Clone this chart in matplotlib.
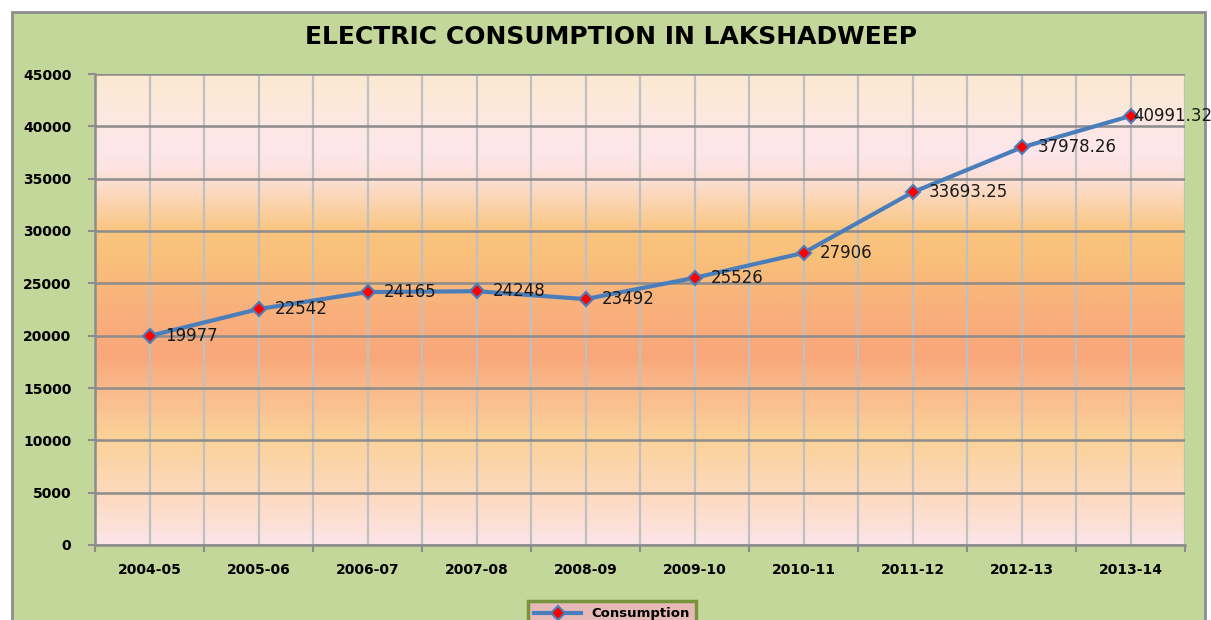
import numpy as np
import matplotlib
matplotlib.use("Agg")
import matplotlib.pyplot as plt
from matplotlib.colors import LinearSegmentedColormap
from matplotlib.patches import Rectangle

years = ["2004-05", "2005-06", "2006-07", "2007-08", "2008-09",
         "2009-10", "2010-11", "2011-12", "2012-13", "2013-14"]
consumption = [19977, 22542, 24165, 24248, 23492, 25526, 27906, 33693.25, 37978.26, 40991.32]
labels = ["19977", "22542", "24165", "24248", "23492", "25526", "27906",
          "33693.25", "37978.26", "40991.32"]
y_ticks = [0, 5000, 10000, 15000, 20000, 25000, 30000, 35000, 40000, 45000]

W, H = 1211, 620
fig = plt.figure(figsize=(W / 100, H / 100), dpi=100)
fig.patch.set_facecolor("white")

# green chart area with grey border
fig.patches.append(Rectangle((12 / W, -0.05), (1205 - 12) / W, (H - 12) / H + 0.05,
                             transform=fig.transFigure, facecolor="#C4D79B",
                             edgecolor="#8C8C8C", linewidth=2, zorder=-10))

ax = fig.add_axes([95 / W, (H - 545) / H, (1185 - 95) / W, (545 - 74) / H])
ax.set_zorder(1)

# vertical gradient background
stops = [(0.0, "#FDE5E8"), (5000 / 45000, "#FCD9BC"), (10000 / 45000, "#FBD29A"),
         (15000 / 45000, "#FAB98A"), (18000 / 45000, "#F9A77A"), (22500 / 45000, "#F9B07C"),
         (27500 / 45000, "#F9C07A"), (30000 / 45000, "#FAC57F"), (35000 / 45000, "#FCE0D6"),
         (37500 / 45000, "#FDE6EC"), (40000 / 45000, "#FDE8E4"), (1.0, "#FBE9D0")]
cmap = LinearSegmentedColormap.from_list("bg", stops)
grad = np.linspace(0, 1, 512).reshape(-1, 1)
ax.imshow(grad, cmap=cmap, aspect="auto", origin="lower",
          extent=[-0.5, 9.5, 0, 45000], zorder=0)

x = np.arange(len(years))
ax.plot(x, consumption, color="#4A7EBB", linewidth=3, marker="D", markersize=7,
        markerfacecolor="red", markeredgecolor="#4A7EBB", markeredgewidth=1.5,
        zorder=5, label="Consumption")

for i, (xv, yv) in enumerate(zip(x, consumption)):
    dx = 3 if i == len(x) - 1 else 16
    ax.annotate(labels[i], (xv, yv), xytext=(dx, 0), textcoords="offset pixels",
                ha="left", va="center", fontsize=12, color="#1A1A1A", zorder=6,
                annotation_clip=False)

ax.set_xlim(-0.5, 9.5)
ax.set_ylim(0, 45000)
ax.set_yticks(y_ticks)
ax.set_yticklabels([str(v) for v in y_ticks], fontsize=10, fontweight="bold")
ax.set_xticks(x)
ax.set_xticklabels(years, fontsize=10, fontweight="bold")
ax.set_xticks(np.arange(-0.5, 10, 1.0), minor=True)

ax.tick_params(axis="x", which="major", length=0, pad=13)
ax.tick_params(axis="x", which="minor", length=5, width=1.5, color="#8C8C8C", direction="out")
ax.tick_params(axis="y", length=5, width=1.5, color="#8C8C8C", pad=12)

for v in np.arange(-0.5, 10, 0.5):
    ax.axvline(v, color="#C0C0C0", linewidth=1.6, zorder=1)
for v in y_ticks:
    ax.axhline(v, color="#8C8C8C", linewidth=1.8, zorder=2)

for s in ["top", "right"]:
    ax.spines[s].set_visible(False)
for s in ["left", "bottom"]:
    ax.spines[s].set_color("#8C8C8C")
    ax.spines[s].set_linewidth(1.8)

fig.text(611 / W, 1 - 37 / H, "ELECTRIC CONSUMPTION IN LAKSHADWEEP",
         ha="center", va="center", fontsize=18, fontweight="bold")

leg = fig.legend(loc="upper center", bbox_to_anchor=(612 / W, 1 - 594 / H),
                 prop={"size": 9.5, "weight": "bold"}, fancybox=False,
                 handlelength=3.5, borderpad=0.5)
leg.get_frame().set_facecolor("#E6B9B8")
leg.get_frame().set_edgecolor("#77933C")
leg.get_frame().set_linewidth(2.5)
leg.get_frame().set_alpha(1)

fig.savefig("out.png", dpi=100)
